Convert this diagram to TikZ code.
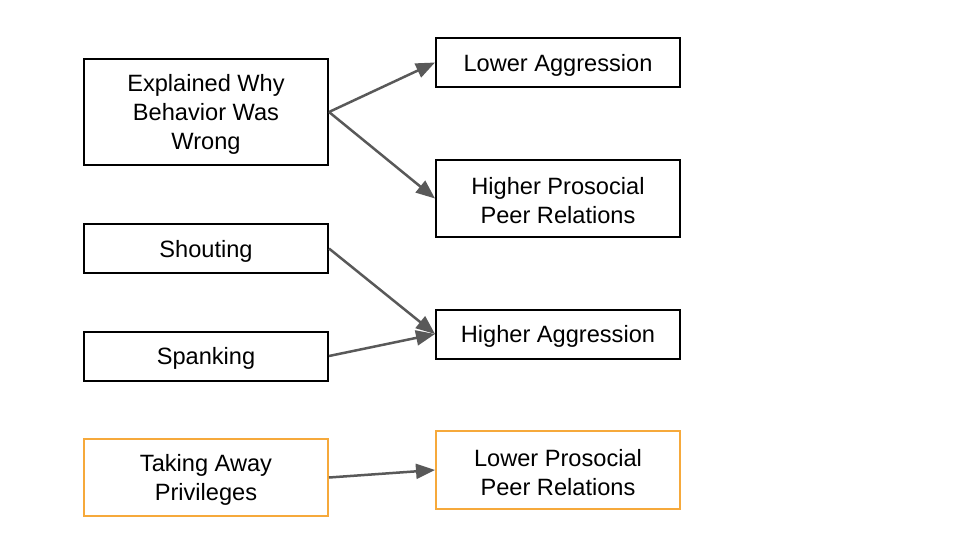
\documentclass[tikz,border=0pt]{standalone}
\usepackage[dvipsnames]{xcolor}
\usepackage{fontspec}
\setmainfont{Liberation Sans}
\usepackage{tikz}
\usetikzlibrary{arrows.meta}
\definecolor{laranja}{HTML}{F6A93B}
\definecolor{cinza}{HTML}{595959}
\newcommand{\corA}{black}
\newcommand{\corB}{laranja}
\newcommand{\corSeta}{cinza}

\begin{document}
\begin{tikzpicture}[x=1pt, y=-1pt,
    caixa/.style={draw=\corA, line width=2pt, minimum width=244pt, inner sep=0pt},
    texto/.style={align=center, font=\fontsize{23.6}{29}\selectfont, inner sep=0pt, yshift=-2.5pt},
    seta/.style={draw=\corSeta, line width=2.5pt, -{Triangle[length=19pt,width=15pt]}}]
          \useasboundingbox (0,0) rectangle (960,540);

          % item 0
        \node [caixa, minimum height=106pt, label={[texto]center:Explained Why\\Behavior Was\\Wrong}] (explicou) at (206,112) {};

          % item 1
        \node [caixa, minimum height=49pt, label={[texto]center:Lower Aggression}] (menosAgr) at (558,62.5) {};

          % item 2
        \node [caixa, minimum height=77pt, label={[texto]center:Higher Prosocial\\Peer Relations}] (maisPro) at (558,198.5) {};

          % item 3
        \node [caixa, minimum height=49pt, label={[texto]center:Shouting}] (gritar) at (206,248.5) {};

          % item 4
        \node [caixa, minimum height=49pt, label={[texto]center:Spanking}] (palmada) at (206,356) {};

          % item 5
        \node [caixa, minimum height=49pt, label={[texto]center:Higher Aggression}] (maisAgr) at (558,334) {};

          % item 6
        \node [caixa, draw=\corB, minimum height=77pt, label={[texto]center:Taking Away\\Privileges}] (privilegios) at (206,477.5) {};

          % item 7
        \node [caixa, draw=\corB, minimum height=78pt, label={[texto]center:Lower Prosocial\\Peer Relations}] (menosPro) at (558,470) {};

           \draw[seta] (explicou.east) -- (menosAgr.west);
           \draw[seta] (explicou.east) -- (maisPro.west);
           \draw[seta] (gritar.east) -- (maisAgr.west);
           \draw[seta] (palmada.east) -- (maisAgr.west);
           \draw[seta] (privilegios.east) -- (menosPro.west);
    \end{tikzpicture}
\end{document}
